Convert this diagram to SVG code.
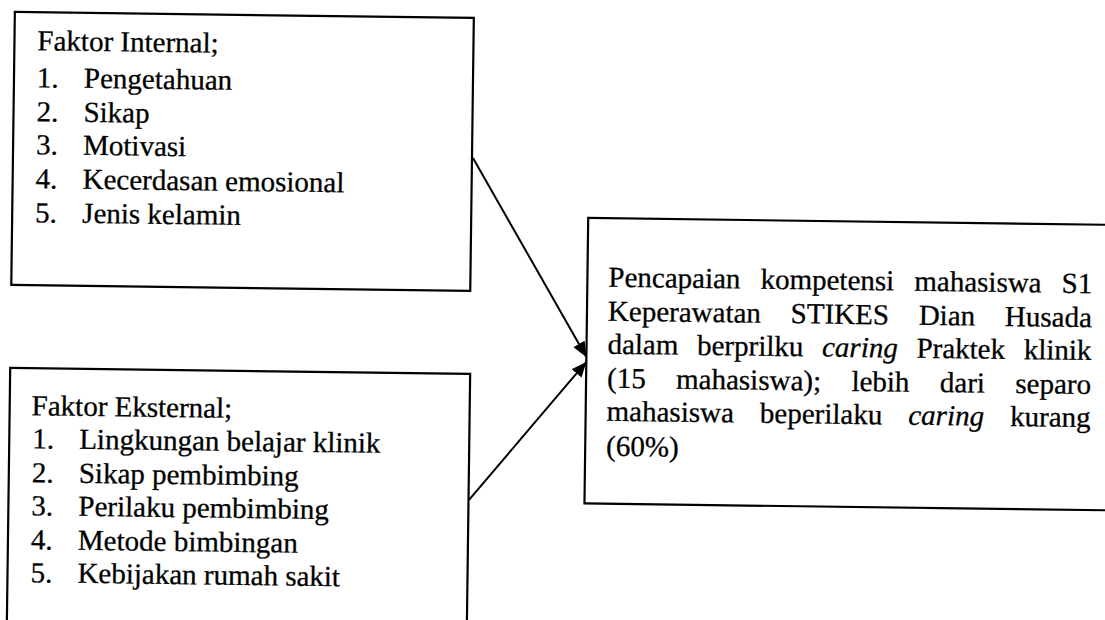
<svg xmlns="http://www.w3.org/2000/svg" width="1105" height="620" viewBox="0 0 1105 620">
  <defs>
    <style>
      .box { fill: none; stroke: #000; stroke-width: 2.2; }
      .conn { fill: none; stroke: #000; stroke-width: 2; }
      text { font-family: "Liberation Serif", "Times New Roman", serif; font-size: 29px; fill: #000; stroke: #000; stroke-width: 0.3; }
      .it { font-style: italic; }
    </style>
    <marker id="ah" markerUnits="userSpaceOnUse" markerWidth="16" markerHeight="13" refX="15" refY="6.5" orient="auto">
      <path d="M0,0 L15,6.5 L0,13 z" fill="#000"/>
    </marker>
  </defs>
  <rect x="0" y="0" width="1105" height="620" fill="#fff"/>
  <g transform="rotate(0.75 552 310)">
    <g id="internal">
      <rect class="box" x="11" y="19" width="459" height="273"/>
      <text x="34" y="57">Faktor Internal;</text>
      <text x="34" y="94">1.</text><text x="81" y="94">Pengetahuan</text>
      <text x="34" y="128">2.</text><text x="81" y="128">Sikap</text>
      <text x="34" y="161">3.</text><text x="81" y="161">Motivasi</text>
      <text x="34" y="195">4.</text><text x="81" y="195">Kecerdasan emosional</text>
      <text x="34" y="229">5.</text><text x="81" y="229">Jenis kelamin</text>
    </g>
    <g id="eksternal">
      <rect class="box" x="11" y="375" width="460" height="270"/>
      <text x="33" y="422">Faktor Eksternal;</text>
      <text x="34" y="455">1.</text><text x="81" y="455">Lingkungan belajar klinik</text>
      <text x="34" y="489">2.</text><text x="81" y="489">Sikap pembimbing</text>
      <text x="34" y="522">3.</text><text x="81" y="522">Perilaku pembimbing</text>
      <text x="34" y="556">4.</text><text x="81" y="556">Metode bimbingan</text>
      <text x="34" y="589">5.</text><text x="81" y="589">Kebijakan rumah sakit</text>
    </g>
    <g id="pencapaian">
      <rect class="box" x="587" y="217.5" width="560" height="285.5"/>
      <text x="608" y="286" word-spacing="12.86">Pencapaian kompetensi mahasiswa S1</text>
      <text x="608" y="320" word-spacing="22.55">Keperawatan STIKES Dian Husada</text>
      <text x="608" y="353" word-spacing="11.45">dalam berprilku <tspan class="it">caring</tspan> Praktek klinik</text>
      <text x="608" y="387" word-spacing="23.15">(15 mahasiswa); lebih dari separo</text>
      <text x="608" y="420" word-spacing="18.78">mahasiswa beperilaku <tspan class="it">caring</tspan> kurang</text>
      <text x="608" y="455">(60%)</text>
    </g>
    <g id="connectors">
      <line class="conn" x1="471" y1="159" x2="587" y2="356.5" marker-end="url(#ah)"/>
      <line class="conn" x1="471.5" y1="501" x2="587" y2="361.5" marker-end="url(#ah)"/>
    </g>
  </g>
</svg>
